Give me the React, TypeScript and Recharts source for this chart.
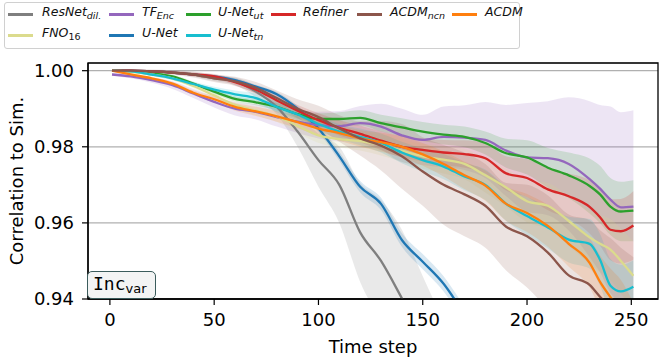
import React from 'react';
import { ComposedChart, Line, Area, XAxis, YAxis, CartesianGrid, ReferenceArea } from 'recharts';

// time steps where the curves are sampled
const steps = [1, 10, 20, 30, 40, 50, 60, 70, 80, 90, 100, 110, 120, 130, 140, 150, 160, 170, 180, 190, 200, 210, 220, 230, 235, 240, 245, 251];

// mean correlation per model
const resnetDil = [1.0, 1.0, 0.9998, 0.9995, 0.999, 0.998, 0.9972, 0.9945, 0.9905, 0.984, 0.9765, 0.97, 0.9575, 0.95, 0.9402, 0.93, 0.92, 0.91, null, null, null, null, null, null, null, null, null, null];
const unet = [1.0, 1.0, 0.9998, 0.9995, 0.999, 0.9985, 0.9975, 0.9958, 0.9938, 0.99, 0.9848, 0.9775, 0.9695, 0.965, 0.9555, 0.9498, 0.944, 0.936, 0.928, null, null, null, null, null, null, null, null, null];
const tfEnc = [0.999, 0.9985, 0.9975, 0.9962, 0.994, 0.9918, 0.99, 0.9892, 0.9878, 0.9866, 0.9857, 0.9854, 0.9862, 0.9853, 0.983, 0.9818, 0.9826, 0.9824, 0.9818, 0.979, 0.9772, 0.977, 0.9755, 0.9715, 0.969, 0.9661, 0.9641, 0.9643];
const unetUt = [1.0, 0.9998, 0.9993, 0.9985, 0.9966, 0.9945, 0.9926, 0.9917, 0.9905, 0.9886, 0.9873, 0.9873, 0.9876, 0.9862, 0.9851, 0.984, 0.9832, 0.9826, 0.981, 0.9783, 0.9772, 0.9745, 0.9725, 0.9697, 0.9675, 0.9643, 0.963, 0.9632];
const refiner = [1.0, 1.0, 0.9998, 0.9995, 0.999, 0.9985, 0.997, 0.995, 0.9922, 0.9895, 0.987, 0.985, 0.9834, 0.9816, 0.98, 0.9792, 0.9785, 0.9781, 0.977, 0.973, 0.9718, 0.9688, 0.967, 0.9642, 0.9615, 0.9582, 0.9578, 0.9593];
const fno16 = [1.0, 0.9997, 0.999, 0.998, 0.996, 0.9935, 0.991, 0.9895, 0.988, 0.9855, 0.983, 0.982, 0.9815, 0.9805, 0.979, 0.9775, 0.9766, 0.9755, 0.9725, 0.9693, 0.9657, 0.9645, 0.9605, 0.9562, 0.9545, 0.953, 0.95, 0.9461];
const unetTn = [1.0, 0.9998, 0.999, 0.998, 0.9965, 0.995, 0.9938, 0.9928, 0.9905, 0.9885, 0.986, 0.984, 0.9826, 0.981, 0.9785, 0.9765, 0.9748, 0.9722, 0.97, 0.965, 0.9618, 0.9588, 0.9556, 0.9545, 0.9503, 0.9435, 0.942, 0.9432];
const acdm = [1.0, 0.999, 0.998, 0.9966, 0.9942, 0.9925, 0.9905, 0.9893, 0.988, 0.9865, 0.9848, 0.9836, 0.9822, 0.9812, 0.98, 0.978, 0.9755, 0.9725, 0.9698, 0.965, 0.9626, 0.9592, 0.9545, 0.9495, 0.9445, 0.9405, 0.937, 0.931];
const acdmNcn = [1.0, 1.0, 0.9998, 0.9995, 0.999, 0.998, 0.9972, 0.9955, 0.9928, 0.99, 0.9878, 0.9848, 0.9822, 0.9803, 0.9775, 0.9735, 0.97, 0.9675, 0.9645, 0.959, 0.9565, 0.9522, 0.9462, 0.9437, 0.9406, 0.938, 0.935, 0.932];

// spread (std) per model
const resnetDilStd = [0.0002, 0.0002, 0.0003, 0.0004, 0.0005, 0.0007, 0.001, 0.0015, 0.002, 0.004, 0.007, 0.01, 0.013, 0.016, 0.018, 0.016, 0.014, 0.012, null, null, null, null, null, null, null, null, null, null];
const unetStd = [0.0002, 0.0002, 0.0002, 0.0003, 0.0003, 0.0004, 0.0005, 0.0005, 0.0006, 0.0008, 0.001, 0.0012, 0.0015, 0.0016, 0.0018, 0.002, 0.002, 0.002, 0.002, null, null, null, null, null, null, null, null, null];
const tfEncStd = [0.0003, 0.0005, 0.0007, 0.001, 0.0012, 0.0015, 0.0018, 0.002, 0.0025, 0.003, 0.0035, 0.004, 0.0045, 0.006, 0.007, 0.0066, 0.008, 0.0085, 0.01, 0.012, 0.0143, 0.015, 0.0175, 0.0205, 0.022, 0.0245, 0.025, 0.0253];
const unetUtStd = [0.0002, 0.0002, 0.0003, 0.0004, 0.0005, 0.0006, 0.0007, 0.0008, 0.001, 0.0012, 0.0015, 0.0018, 0.002, 0.0022, 0.0024, 0.0025, 0.0026, 0.0027, 0.003, 0.0038, 0.0045, 0.0052, 0.006, 0.0072, 0.0075, 0.0075, 0.0078, 0.008];
const refinerStd = [0.0002, 0.0002, 0.0003, 0.0004, 0.0005, 0.0006, 0.0008, 0.001, 0.0012, 0.0015, 0.0018, 0.002, 0.0022, 0.0025, 0.0028, 0.003, 0.0033, 0.0036, 0.004, 0.0045, 0.005, 0.0055, 0.006, 0.007, 0.0075, 0.008, 0.0085, 0.009];
const fno16Std = [0.0002, 0.0003, 0.0004, 0.0005, 0.0006, 0.0008, 0.001, 0.0012, 0.0015, 0.0018, 0.002, 0.0022, 0.0025, 0.0028, 0.003, 0.0033, 0.0036, 0.004, 0.0045, 0.005, 0.0055, 0.006, 0.0065, 0.007, 0.0075, 0.008, 0.0085, 0.009];
const unetTnStd = [0.0002, 0.0003, 0.0004, 0.0005, 0.0006, 0.0008, 0.001, 0.0012, 0.0014, 0.0016, 0.0018, 0.002, 0.0022, 0.0025, 0.0028, 0.003, 0.0033, 0.0036, 0.004, 0.0045, 0.005, 0.0055, 0.006, 0.0065, 0.0068, 0.007, 0.007, 0.007];
const acdmStd = [0.0002, 0.0003, 0.0004, 0.0005, 0.0006, 0.0008, 0.001, 0.0012, 0.0014, 0.0016, 0.0018, 0.002, 0.0022, 0.0025, 0.0028, 0.003, 0.0033, 0.0036, 0.004, 0.0045, 0.005, 0.0055, 0.006, 0.0065, 0.007, 0.0075, 0.008, 0.008];
const acdmNcnStd = [0.0003, 0.0004, 0.0005, 0.0006, 0.0008, 0.001, 0.0012, 0.0015, 0.002, 0.0025, 0.003, 0.0035, 0.0045, 0.0065, 0.0085, 0.009, 0.0105, 0.011, 0.011, 0.0115, 0.0135, 0.015, 0.016, 0.017, 0.0175, 0.018, 0.0185, 0.019];

const xTicks = [0, 50, 100, 150, 200, 250];
const yTicks = [0.94, 0.96, 0.98, 1.0];

const SERIES = [
  { key: 'resnetDil', name: 'ResNet', sub: 'dil.', color: '#7f7f7f', mean: resnetDil, std: resnetDilStd },
  { key: 'unet', name: 'U-Net', sub: '', color: '#1f77b4', mean: unet, std: unetStd },
  { key: 'tfEnc', name: 'TF', sub: 'Enc', color: '#9467bd', mean: tfEnc, std: tfEncStd },
  { key: 'unetUt', name: 'U-Net', sub: 'ut', color: '#2ca02c', mean: unetUt, std: unetUtStd },
  { key: 'refiner', name: 'Refiner', sub: '', color: '#d62728', mean: refiner, std: refinerStd },
  { key: 'fno16', name: 'FNO', sub: '16', color: '#dbdb8d', mean: fno16, std: fno16Std },
  { key: 'unetTn', name: 'U-Net', sub: 'tn', color: '#17becf', mean: unetTn, std: unetTnStd },
  { key: 'acdm', name: 'ACDM', sub: '', color: '#ff7f0e', mean: acdm, std: acdmStd },
  { key: 'acdmNcn', name: 'ACDM', sub: 'ncn', color: '#8c564b', mean: acdmNcn, std: acdmNcnStd },
];

// legend layout in page pixels: key, handle x, text x, row centre y
const LEGEND: [string, number, number, number][] = [
  ['resnetDil', 8, 42, 14], ['tfEnc', 109, 142, 14], ['unetUt', 186, 218, 14],
  ['refiner', 271, 303, 14], ['acdmNcn', 357, 390, 14], ['acdm', 452, 485, 14],
  ['fno16', 8, 42, 35], ['unet', 109, 142, 35], ['unetTn', 186, 218, 35],
];

const data = steps.map((step, i) => {
  const row: any = { step };
  SERIES.forEach(s => {
    const m = s.mean[i];
    const sd = s.std[i];
    row[s.key] = m;
    row[s.key + 'Band'] = m == null || sd == null ? null : [m - sd, m + sd];
  });
  return row;
});

const X_DOMAIN = [-10.5, 262.8];
const Y_DOMAIN = [0.94, 1.00202];
const FONT = '"DejaVu Sans", sans-serif';

function LegendBox() {
  return (
    <>
      <div style={{ position: 'absolute', left: 4, top: 2, width: 516, height: 47, border: '1px solid #d0d0d0', borderRadius: 3, background: 'rgba(255,255,255,0.85)', boxSizing: 'border-box' }} />
      {LEGEND.map(([key, hx, tx, y]) => {
        const s = SERIES.find(v => v.key === key)!;
        return (
          <React.Fragment key={key}>
            <div style={{ position: 'absolute', left: hx, top: y - 1.5, width: 25, height: 3, background: s.color }} />
            <div style={{ position: 'absolute', left: tx, top: y - 12, height: 20, whiteSpace: 'nowrap', fontSize: 12.5, fontStyle: 'italic', lineHeight: '20px', color: '#111' }}>
              {s.name}
              {s.sub && <sub style={{ fontSize: 9.5, fontStyle: s.sub === '16' ? 'normal' : 'italic', verticalAlign: -3, lineHeight: 0 }}>{s.sub}</sub>}
            </div>
          </React.Fragment>
        );
      })}
    </>
  );
}

export default function App() {
  return (
    <div style={{ position: 'absolute', left: 0, top: 0, width: 662, height: 360, background: '#fff', fontFamily: FONT }}>
      <ComposedChart width={662} height={360} data={data} margin={{ top: 63, right: 4, bottom: 0, left: 0 }}>
        <CartesianGrid vertical={false} stroke="#b0b0b0" strokeWidth={1.2} />
        <XAxis
          dataKey="step"
          type="number"
          domain={X_DOMAIN}
          ticks={xTicks}
          allowDataOverflow
          height={61}
          tickSize={6}
          tickMargin={8}
          tick={{ fill: '#000', fontSize: 18, fontFamily: FONT }}
          axisLine={{ stroke: '#000', strokeWidth: 1.3 }}
          tickLine={{ stroke: '#000', strokeWidth: 1.2 }}
          label={{ value: 'Time step', position: 'insideBottom', offset: 7, fill: '#000', fontSize: 18, fontFamily: FONT }}
        />
        <YAxis
          type="number"
          domain={Y_DOMAIN}
          ticks={yTicks}
          allowDataOverflow
          width={88}
          tickSize={6}
          tickMargin={8}
          tickFormatter={(v: number) => v.toFixed(2)}
          tick={{ fill: '#000', fontSize: 18, fontFamily: FONT }}
          axisLine={{ stroke: '#000', strokeWidth: 1.3 }}
          tickLine={{ stroke: '#000', strokeWidth: 1.2 }}
          label={{ value: 'Correlation to Sim.', angle: -90, position: 'insideLeft', offset: 17, fill: '#000', fontSize: 18, fontFamily: FONT, style: { textAnchor: 'middle' } }}
        />
        {SERIES.map(s => (
          <Area
            key={s.key + 'Band'}
            dataKey={s.key + 'Band'}
            type="monotone"
            stroke="none"
            fill={s.color}
            fillOpacity={0.17}
            dot={false}
            activeDot={false}
            isAnimationActive={false}
          />
        ))}
        {SERIES.map(s => (
          <Line
            key={s.key}
            dataKey={s.key}
            type="monotone"
            stroke={s.color}
            strokeWidth={2.3}
            dot={false}
            activeDot={false}
            isAnimationActive={false}
          />
        ))}
        <ReferenceArea x1={X_DOMAIN[0]} x2={X_DOMAIN[1]} y1={Y_DOMAIN[0]} y2={Y_DOMAIN[1]} fill="none" stroke="#000" strokeWidth={1.3} ifOverflow="visible" />
      </ComposedChart>
      <LegendBox />
      <div style={{ position: 'absolute', left: 87, top: 271, width: 69, height: 28, border: '1.5px solid #3b5c5c', borderRadius: 5, background: '#f3f4f4', boxSizing: 'border-box' }}>
        <span style={{ position: 'absolute', left: 5, top: 1, fontFamily: '"DejaVu Sans Mono", monospace', fontSize: 18, lineHeight: '22px', color: '#000' }}>
          Inc<span style={{ fontFamily: FONT, fontSize: 13, verticalAlign: -3 }}>var</span>
        </span>
      </div>
    </div>
  );
}
